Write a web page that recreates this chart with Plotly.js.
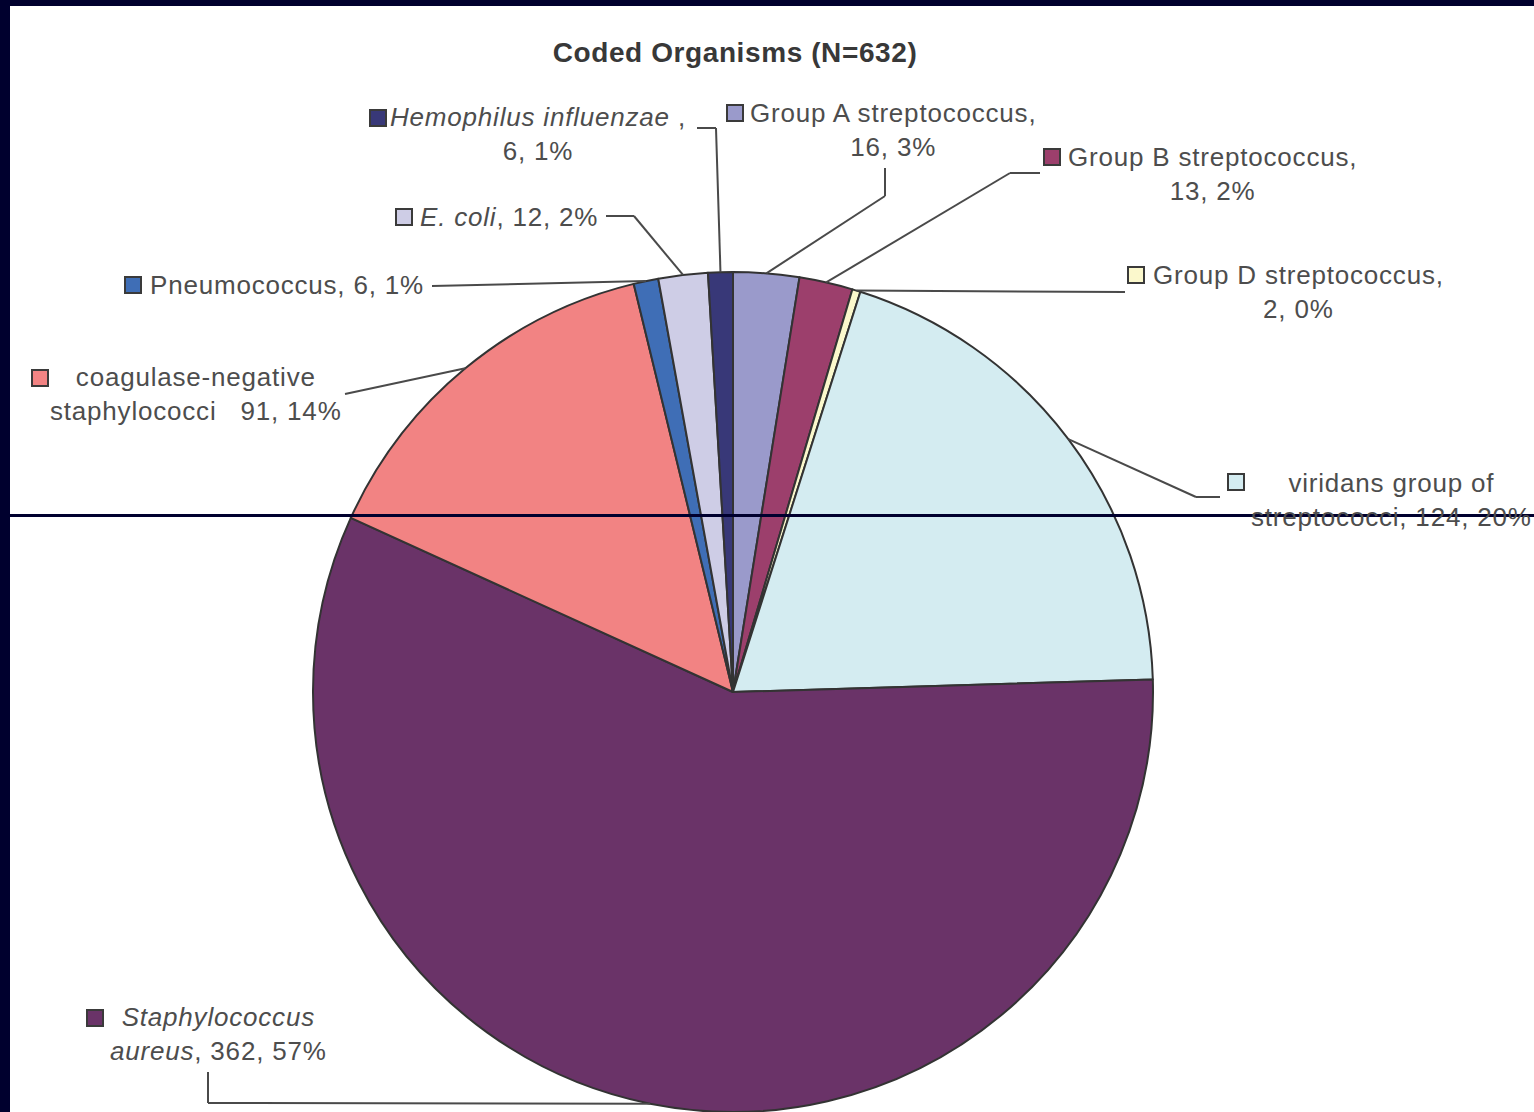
<!DOCTYPE html>
<html><head><meta charset="utf-8">
<script src="https://cdn.plot.ly/plotly-3.0.1.min.js"></script>
<style>
html,body{margin:0;padding:0;background:#fff;overflow:hidden}
.annotation-text{letter-spacing:0.8px !important}
.gtitle{letter-spacing:0.6px !important}
</style>
</head><body><div id="chart" style="width:1534px;height:1112px"></div>
<script>
// ---- data ----
const organisms = ["Group A streptococcus","Group B streptococcus","Group D streptococcus","viridans group of streptococci","Staphylococcus aureus","coagulase-negative staphylococci","Pneumococcus","E. coli","Hemophilus influenzae"];
const counts = [16, 13, 2, 124, 362, 91, 6, 12, 6];
const labelNames = ["Group A streptococcus,","Group B streptococcus,","Group D streptococcus,","viridans group of<br>streptococci,","<i>Staphylococcus</i><br><i>aureus</i>,","coagulase-negative<br>staphylococci ","Pneumococcus,","<i>E. coli</i>,","<i>Hemophilus influenzae</i> ,"];
const labelSeparators = ["<br>","<br>","<br>"," "," ","  "," "," ","<br>"];
const sliceColors = ["#9a9acb","#9c3f6c","#fbf8cc","#d4ecf1","#6a3368","#f28383","#3f6eb6","#cecde6","#383878"];
const chartTitle = "<b>Coded Organisms (N=632)</b>";

// ---- layout config (pixels) ----
const W = 1534, H = 1112;
const pieC = {x: 733, y: 692}, pieR = 420;
const labelPos = [
  {cx: 893, cy: 130, sq: [727,105], lead: [[885,168],[885,196]]},
  {cx: 1212, cy: 174, sq: [1044,149], lead: [[1040,173],[1010,173]]},
  {cx: 1298, cy: 292, sq: [1128,267], lead: [[1125,292]]},
  {cx: 1391, cy: 500, sq: [1228,474], lead: [[1220,497],[1196,497]]},
  {cx: 218, cy: 1034, sq: [87,1010], lead: [[208,1072],[208,1103]]},
  {cx: 196, cy: 394, sq: [32,370], lead: [[345,394]]},
  {cx: 287, cy: 285, sq: [125,277], lead: [[432,286]]},
  {cx: 509, cy: 217, sq: [396,209], lead: [[606,216],[634,216]]},
  {cx: 538, cy: 134, sq: [370,110], lead: [[697,128],[716,128]]}
];
const px = x => x / W, py = y => 1 - y / H;
const navy = "#00002e";

const total = counts.reduce((a,b)=>a+b,0);
const annotations = [], shapes = [];
let cum = 0;
counts.forEach((v,i) => {
  const mid = (cum + v/2) / total * 2 * Math.PI; cum += v;
  const ex = pieC.x + pieR * Math.sin(mid), ey = pieC.y - pieR * Math.cos(mid);
  const pct = Math.round(v / total * 100);
  const L = labelPos[i];
  annotations.push({
    xref:'paper', yref:'paper', x: px(L.cx), y: py(L.cy), xanchor:'center', yanchor:'middle',
    align:'center', showarrow:false,
    text: labelNames[i] + labelSeparators[i] + v + ", " + pct + "%",
    font:{family:'Liberation Sans, Arial, sans-serif', size:26, color:'#4d4d4d'}
  });
  shapes.push({type:'rect', xref:'paper', yref:'paper',
    x0: px(L.sq[0]), x1: px(L.sq[0]+16), y0: py(L.sq[1]+16), y1: py(L.sq[1]),
    fillcolor: sliceColors[i], line:{color:'#3a3a3a', width:2}});
  const pts = L.lead.concat([[ex, ey]]);
  for (let k = 0; k < pts.length - 1; k++) {
    shapes.push({type:'line', xref:'paper', yref:'paper',
      x0: px(pts[k][0]), y0: py(pts[k][1]), x1: px(pts[k+1][0]), y1: py(pts[k+1][1]),
      line:{color:'#4a4a4a', width:2}});
  }
});
// frame
shapes.push({type:'rect', xref:'paper', yref:'paper', x0:0, x1:1, y0:py(6), y1:1, fillcolor:navy, line:{width:0}});
shapes.push({type:'rect', xref:'paper', yref:'paper', x0:0, x1:px(10), y0:0, y1:1, fillcolor:navy, line:{width:0}});
shapes.push({type:'line', xref:'paper', yref:'paper', x0:px(10), x1:1, y0:py(515.5), y1:py(515.5), line:{color:navy, width:3}});

const trace = {
  type:'pie', labels: organisms, values: counts, sort:false, direction:'clockwise', rotation:0,
  marker:{colors: sliceColors, line:{color:'#333333', width:2}},
  textinfo:'none', hoverinfo:'label+value+percent', showlegend:false,
  domain:{x:[px(pieC.x - pieR), px(pieC.x + pieR)], y:[0, 2*pieR/H]}
};
const layout = {
  width: W, height: H, autosize:false,
  margin:{l:0, r:0, t:0, b:0, pad:0},
  paper_bgcolor:'#ffffff', plot_bgcolor:'#ffffff',
  showlegend:false,
  title:{text: chartTitle, x: px(735), xref:'paper', xanchor:'center', y: py(52), yref:'paper', yanchor:'middle',
    font:{family:'Liberation Sans, Arial, sans-serif', size:28, color:'#383838'}},
  annotations, shapes
};
Plotly.newPlot('chart', [trace], layout, {displayModeBar:false, staticPlot:true});
</script>
</body></html>
